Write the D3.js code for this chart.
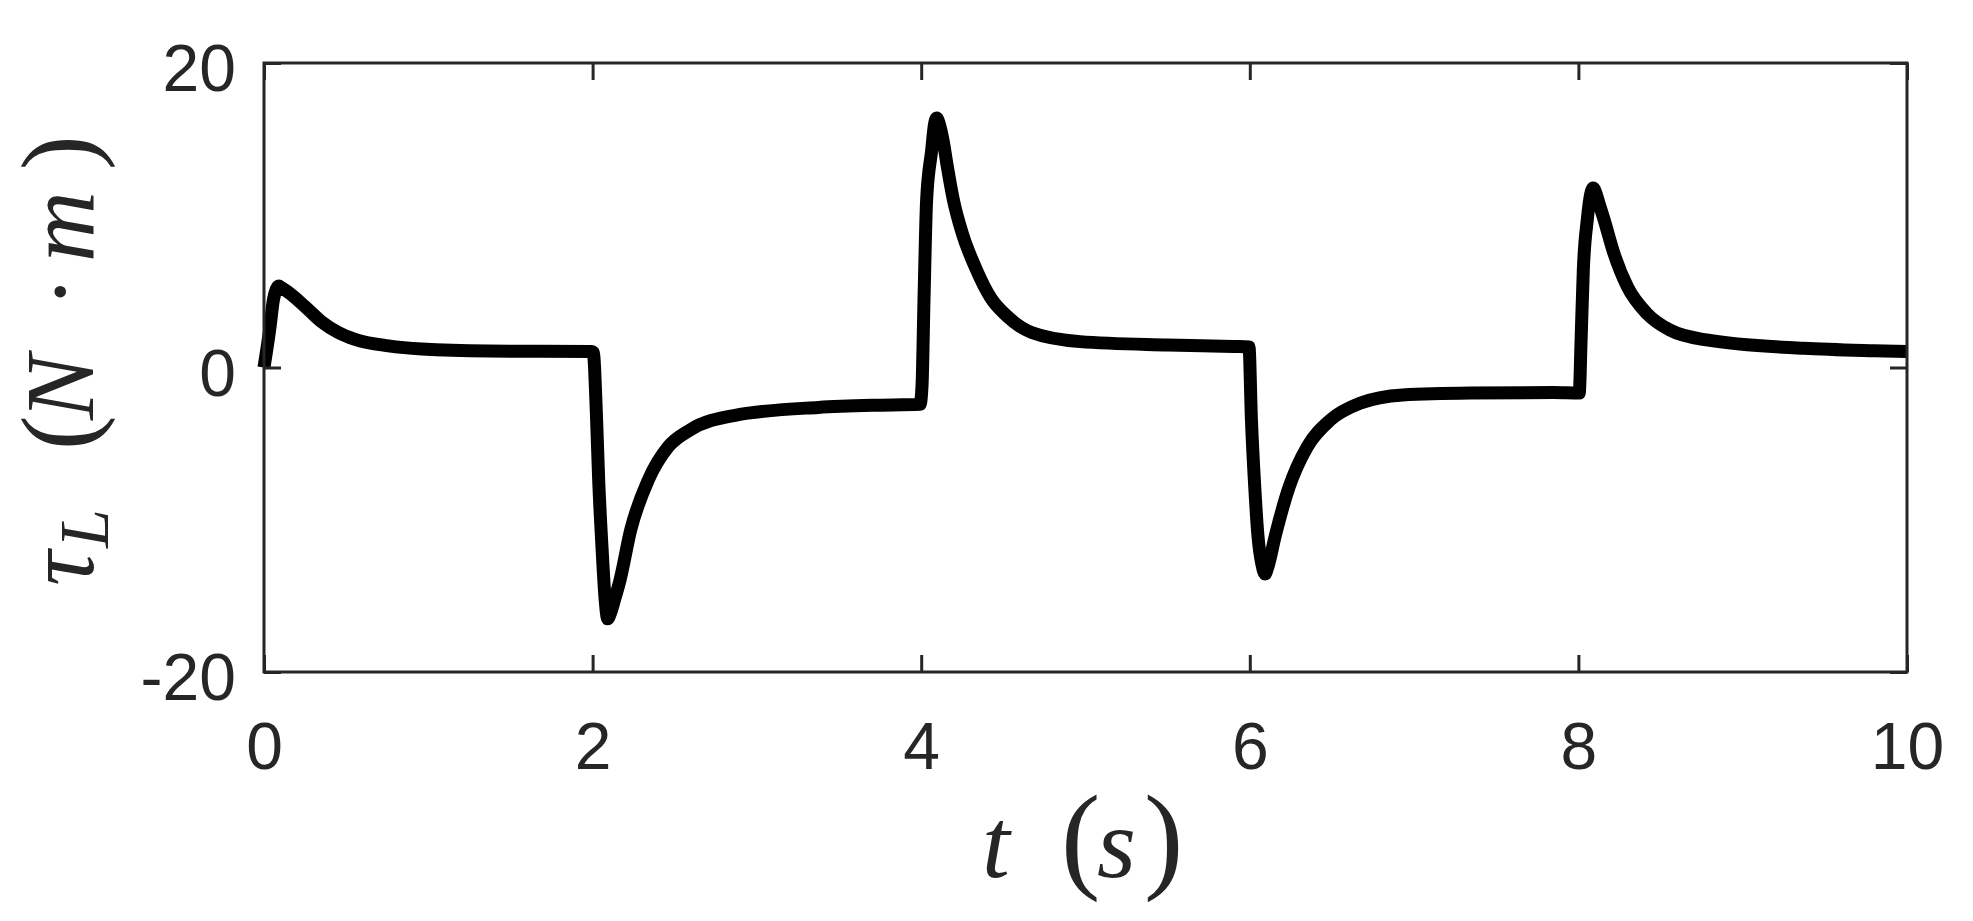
<!DOCTYPE html>
<html>
<head>
<meta charset="utf-8">
<script src="https://cdn.jsdelivr.net/npm/d3@7"></script>
<style>
  html, body { margin: 0; padding: 0; background: #ffffff; }
  svg { display: block; }
</style>
</head>
<body>
<svg id="chart" width="1973" height="921"></svg>
<script>
// ---- data ----
const timeS = [
  0, 0.037, 0.057, 0.075, 0.09, 0.105, 0.148, 0.25, 0.351, 0.452, 0.554, 0.757, 0.96, 1.365, 1.995,
  2.004, 2.023, 2.037, 2.057, 2.075, 2.092, 2.11, 2.135, 2.167, 2.232, 2.339, 2.461, 2.593, 2.867, 3.374, 3.7, 3.993,
  4.005, 4.017, 4.033, 4.064, 4.08, 4.094, 4.11, 4.135, 4.159, 4.196, 4.25, 4.328, 4.425, 4.52, 4.672, 4.967, 5.5, 5.9, 5.995,
  6.01, 6.03, 6.05, 6.075, 6.093, 6.11, 6.154, 6.24, 6.35, 6.49, 6.67, 6.93, 7.34, 7.85, 8.005,
  8.017, 8.03, 8.054, 8.075, 8.09, 8.105, 8.125, 8.157, 8.216, 8.298, 8.416, 8.557, 8.78, 9.37, 9.8, 10.0
];
const torqueNm = [
  0, 2.68, 4.43, 5.15, 5.35, 5.25, 4.94, 4.0, 3.0, 2.3, 1.85, 1.42, 1.21, 1.08, 1.05,
  1.0, -3.0, -7.39, -11.77, -15.05, -16.5, -16.1, -15.2, -13.96, -10.67, -7.39, -5.2, -4.1, -3.14, -2.62, -2.48, -2.42,
  -1.2, 4.43, 11.0, 14.29, 15.9, 16.39, 16.0, 14.8, 13.19, 11.0, 8.81, 6.62, 4.55, 3.4, 2.3, 1.7, 1.48, 1.38, 1.35,
  -3.45, -7.83, -11.1, -13.0, -13.56, -13.1, -11.1, -7.83, -5.2, -3.45, -2.35, -1.8, -1.68, -1.65, -1.68,
  2.02, 6.4, 9.69, 11.4, 11.79, 11.5, 10.8, 9.69, 7.5, 5.31, 3.56, 2.46, 1.81, 1.26, 1.1, 1.05
];
const xTicks = [0, 2, 4, 6, 8, 10];
const yTicks = [-20, 0, 20];
const xDomain = [0, 10];
const yDomain = [-20, 20];

// ---- layout ----
const W = 1973, H = 921;
const plot = { left: 264, right: 1907, top: 63, bottom: 672 };
const axisColor = "#262626";
const tickLen = 17;
const tickFont = "'Liberation Sans', Arial, Helvetica, sans-serif";
const mathFont = "'Liberation Serif', 'Times New Roman', serif";

const svg = d3.select("#chart");
svg.append("rect").attr("width", W).attr("height", H).attr("fill", "#fff");

const x = d3.scaleLinear().domain(xDomain).range([plot.left, plot.right]);
const y = d3.scaleLinear().domain(yDomain).range([plot.bottom, plot.top]);

// data line
const points = timeS.map((t, i) => [t, torqueNm[i]]);
const line = d3.line()
  .x(d => x(d[0]))
  .y(d => y(d[1]))
  .curve(d3.curveMonotoneX);

svg.append("path")
  .datum(points)
  .attr("d", line)
  .attr("fill", "none")
  .attr("stroke", "#000")
  .attr("stroke-width", 13)
  .attr("stroke-linejoin", "round");

// axes
function styleAxis(g) {
  g.selectAll(".domain").remove();
  g.selectAll(".tick line").attr("stroke", axisColor).attr("stroke-width", 3);
  g.selectAll(".tick text")
    .attr("fill", axisColor)
    .style("font-family", tickFont)
    .style("font-size", "66px");
}
const fmt = d => String(d);

const gBottom = svg.append("g")
  .attr("transform", `translate(0,${plot.bottom})`)
  .call(d3.axisBottom(x).tickValues(xTicks).tickFormat(fmt)
    .tickSizeInner(-tickLen).tickSizeOuter(0).tickPadding(50));
styleAxis(gBottom);

const gTop = svg.append("g")
  .attr("transform", `translate(0,${plot.top})`)
  .call(d3.axisTop(x).tickValues(xTicks).tickFormat("")
    .tickSizeInner(-tickLen).tickSizeOuter(0));
styleAxis(gTop);

const gLeft = svg.append("g")
  .attr("transform", `translate(${plot.left},0)`)
  .call(d3.axisLeft(y).tickValues(yTicks).tickFormat(fmt)
    .tickSizeInner(-tickLen).tickSizeOuter(0).tickPadding(28));
styleAxis(gLeft);
gLeft.selectAll(".tick text").attr("dy", "0.417em");

const gRight = svg.append("g")
  .attr("transform", `translate(${plot.right},0)`)
  .call(d3.axisRight(y).tickValues(yTicks).tickFormat("")
    .tickSizeInner(-tickLen).tickSizeOuter(0));
styleAxis(gRight);

// box
svg.append("rect")
  .attr("x", plot.left).attr("y", plot.top)
  .attr("width", plot.right - plot.left).attr("height", plot.bottom - plot.top)
  .attr("fill", "none")
  .attr("stroke", axisColor)
  .attr("stroke-width", 3);

// x label: t (s)
const xl = svg.append("text")
  .attr("y", 877)
  .attr("fill", axisColor)
  .style("font-family", mathFont)
  .style("font-size", "100px");
xl.append("tspan").attr("x", 982).style("font-style", "italic").text("t");
xl.append("tspan").attr("x", 1061).style("font-size", "118px").text("(");
xl.append("tspan").attr("x", 1097).style("font-style", "italic").text("s");
xl.append("tspan").attr("x", 1144).style("font-size", "118px").text(")");

// y label: τ_L (N·m)  (rotated; local x = -screen y)
const yl = svg.append("text")
  .attr("transform", "translate(93,0) rotate(-90)")
  .attr("fill", axisColor)
  .style("font-family", mathFont)
  .style("font-size", "98px");
yl.append("tspan").attr("x", -586).style("font-style", "italic").text("τ");
yl.append("tspan").attr("x", -548).attr("dy", 15).style("font-style", "italic").style("font-size", "70px").text("L");
yl.append("tspan").attr("x", -450).attr("dy", -15).style("font-size", "104px").text("(");
yl.append("tspan").attr("x", -420).style("font-style", "italic").text("N");
yl.append("tspan").attr("x", -308).text("·");
yl.append("tspan").attr("x", -262).style("font-style", "italic").text("m");
yl.append("tspan").attr("x", -170).style("font-size", "104px").text(")");
</script>
</body>
</html>
